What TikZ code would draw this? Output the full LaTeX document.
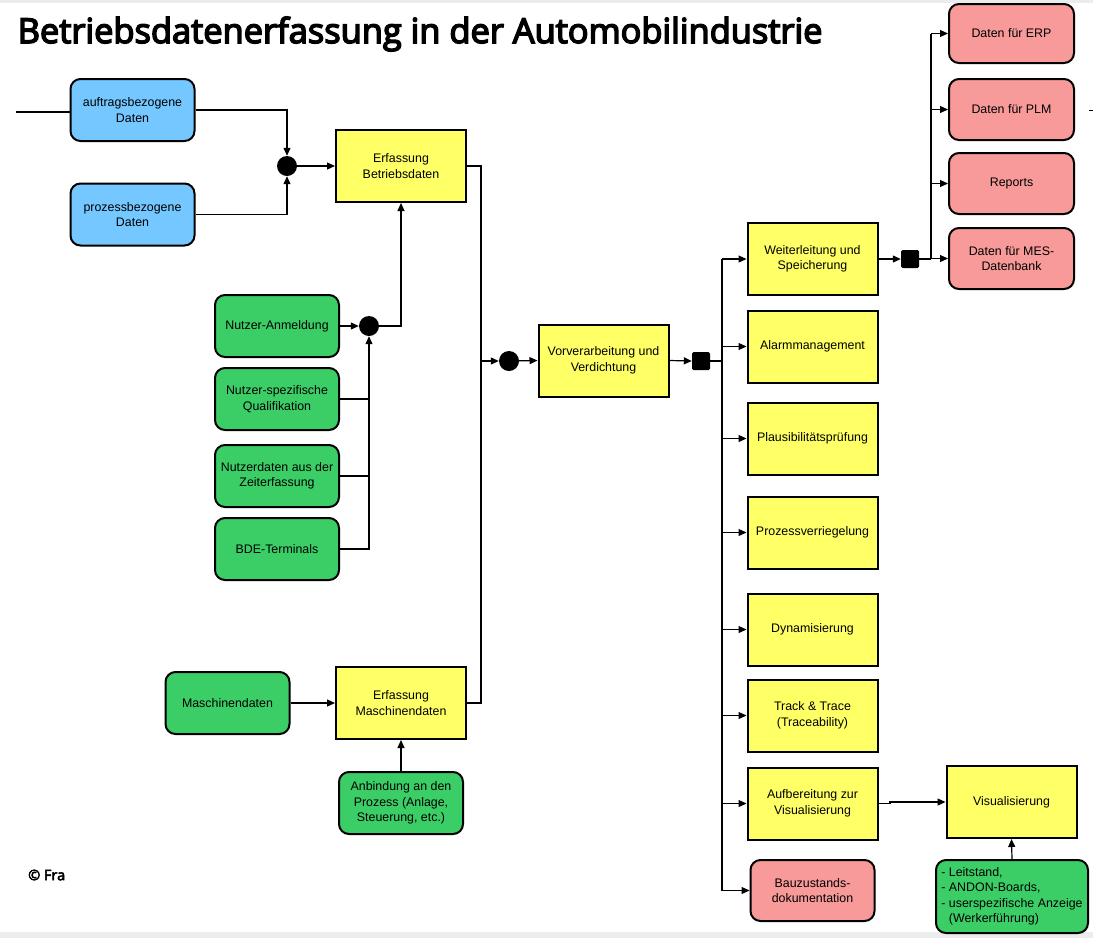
\documentclass[tikz,border=0pt]{standalone}
\usepackage{fontspec}
\setmainfont{Liberation Sans}
\newfontfamily\titlefont{Open Sans}
\newcommand{\heavytext}[2]{\special{pdf:literal direct 2 Tr #1 w}#2\special{pdf:literal direct 0 Tr 1 w}}
\usetikzlibrary{arrows.meta}
\definecolor{cblue}{RGB}{116,200,255}
\definecolor{cyellow}{RGB}{255,255,102}
\definecolor{cgreen}{RGB}{60,206,102}
\definecolor{cpink}{RGB}{248,154,154}
\definecolor{cband}{RGB}{236,236,236}
\begin{document}
\begin{tikzpicture}[x=1pt,y=-1pt,
  box/.style={draw=black, line width=2pt, fill=cyellow, minimum width=130pt, minimum height=72pt, align=center, font=\fontsize{12.4}{15.5}\selectfont, inner sep=2pt},
  rbox/.style={box, rounded corners=10pt, minimum width=124pt, minimum height=62pt},
  conn/.style={line width=1.2pt, -{Triangle[length=8pt,width=7pt]}},
  plain/.style={line width=1.2pt},
  dot/.style={circle, fill=black, minimum size=20pt, inner sep=0pt},
  sq/.style={rectangle, fill=black, minimum size=18pt, inner sep=0pt, rounded corners=1.5pt}]
\useasboundingbox (0,0) rectangle (1093,938);
\fill[white] (0,0) rectangle (1093,938);
\fill[cband] (0,0) rectangle (1093,3);
\fill[cband] (0,932) rectangle (1093,938);

\node[anchor=west, font=\titlefont\fontsize{34.4}{40}\selectfont, inner sep=0pt] (title) at (17.5,34) {\heavytext{1.5}{Betriebsdatenerfassung in der Automobilindustrie}};
\node[anchor=west, font=\titlefont\fontsize{14.5}{16}\selectfont, inner sep=0pt] (cp) at (28,875) {\heavytext{0.5}{© Fra}};

% left inputs
\node[rbox, fill=cblue] (b1) at (132.5,110) {auftragsbezogene\\Daten};
\node[rbox, fill=cblue] (b2) at (132.5,214.5) {prozessbezogene\\Daten};
\node[dot] (j1) at (287,166) {};
\node[box] (eb) at (401,166) {Erfassung\\Betriebsdaten};

\node[rbox, fill=cgreen] (g1) at (277,326) {Nutzer-Anmeldung};
\node[rbox, fill=cgreen] (g2) at (277,399) {Nutzer-spezifische\\Qualifikation};
\node[rbox, fill=cgreen] (g3) at (277,476) {Nutzerdaten aus der\\Zeiterfassung};
\node[rbox, fill=cgreen] (g4) at (277,549) {BDE-Terminals};
\node[dot] (j2) at (369,326) {};

\node[rbox, fill=cgreen] (md) at (227.5,703) {Maschinendaten};
\node[box] (em) at (401,703) {Erfassung\\Maschinendaten};
\node[rbox, fill=cgreen] (an) at (401,803) {Anbindung an den\\Prozess (Anlage,\\Steuerung, etc.)};

\node[dot] (j3) at (509,361) {};
\node[box] (vv) at (603.5,360.5) {Vorverarbeitung und\\Verdichtung};
\node[sq] (s1) at (701,361) {};

% right column
\node[box] (ws) at (812.5,259) {Weiterleitung und\\Speicherung};
\node[box] (al) at (812.5,346.5) {Alarmmanagement};
\node[box] (pl) at (812.5,438.5) {Plausibilitätsprüfung};
\node[box] (pv) at (812.5,532.5) {Prozessverriegelung};
\node[box] (dy) at (812.5,629.5) {Dynamisierung};
\node[box] (tt) at (812.5,715.5) {Track \& Trace\\(Traceability)};
\node[box] (av) at (812.5,803.5) {Aufbereitung zur\\Visualisierung};
\node[rbox, fill=cpink, minimum height=61pt] (bz) at (812.5,890.5) {Bauzustands-\\dokumentation};

\node[sq] (s2) at (910,259) {};
\node[rbox, fill=cpink, minimum width=125pt, minimum height=59pt] (erp) at (1011.5,33.5) {Daten für ERP};
\node[rbox, fill=cpink, minimum width=125pt, minimum height=61pt] (plm) at (1011.5,109.5) {Daten für PLM};
\node[rbox, fill=cpink, minimum width=125pt, minimum height=61pt] (rep) at (1011.5,183.5) {Reports};
\node[rbox, fill=cpink, minimum width=125pt, minimum height=61pt] (mes) at (1011.5,258.5) {Daten für MES-\\Datenbank};

\node[box] (vis) at (1011.5,802) {Visualisierung};
\node[rbox, fill=cgreen, minimum width=152pt, minimum height=73pt, align=left, inner sep=0.5pt] (lei) at (1012,896.5) {- Leitstand,\\- ANDON-Boards,\\- userspezifische Anzeige\\\phantom{- }(Werkerführung)};

% connectors
\coordinate (l0) at (16,112);
\draw[plain] (l0) -- (l0 -| b1.west);
\draw[conn] (b1.east) -| (j1.north);
\draw[conn] (b2.east) -| (j1.south);
\draw[conn] (j1) -- (eb.west);

\draw[conn] (g1.east) -- (j2.west);
\draw[conn] (g4.east) -| (j2.south);
\draw[plain] (g2.east) -- (g2.east -| j2);
\draw[plain] (g3.east) -- (g3.east -| j2);
\draw[conn] (j2.east) -| (eb.south);

\coordinate (m1) at (481,361);
\draw[plain] (eb.east) -| (m1) |- (em.east);
\draw[conn] (m1) -- (j3);
\draw[conn] (j3) -- (vv.west);
\draw[conn] (vv.east) -- (s1.west);

\draw[conn] (md.east) -- (em.west);
\draw[conn] (an.north) -- (em.south);

\coordinate (m2) at (722,361);
\draw[plain] (s1.east) -- (m2);
\draw[plain] (ws.west -| m2) -- (bz.west -| m2);
\foreach \n in {ws,al,pl,pv,dy,tt,av,bz} \draw[conn] (\n.west -| m2) -- (\n.west);

\draw[conn] (ws.east) -- (s2.west);
\coordinate (m3) at (931,259);
\draw[plain] (s2.east) -- (m3);
\draw[plain] (m3) -- (erp.west -| m3);
\foreach \n in {erp,plm,rep,mes} \draw[conn] (\n.west -| m3) -- (\n.west);

\coordinate (k) at (890,801);
\draw[conn] (av.east) -| (k) |- (vis.west);
\draw[conn] (lei.north) -- (vis.south);

\coordinate (d0) at (1089,110);
\coordinate (d1) at (1093,110);
\draw[line width=1pt] (d0) -- (d1);
\end{tikzpicture}
\end{document}
